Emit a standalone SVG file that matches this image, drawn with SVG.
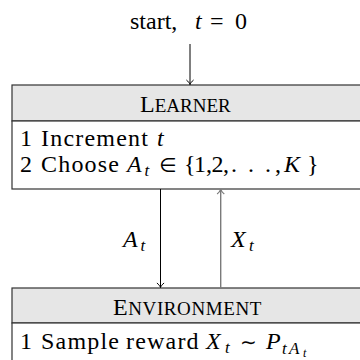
<svg xmlns="http://www.w3.org/2000/svg" width="360" height="360" viewBox="0 0 360 360">
<defs>
<marker id="ab" viewBox="-6 -5 7 10" refX="0" refY="0" markerWidth="7" markerHeight="10" markerUnits="userSpaceOnUse" orient="auto">
<path d="M-4.5,-3.6 C-3,-1.6 -1.2,-0.5 0,0 C-1.2,0.5 -3,1.6 -4.5,3.6" fill="none" stroke="#000" stroke-width="1"/>
</marker>
<marker id="ag" viewBox="-6 -5 7 10" refX="0" refY="0" markerWidth="7" markerHeight="10" markerUnits="userSpaceOnUse" orient="auto">
<path d="M-4.5,-3.6 C-3,-1.6 -1.2,-0.5 0,0 C-1.2,0.5 -3,1.6 -4.5,3.6" fill="none" stroke="#7a7a7a" stroke-width="1.2"/>
</marker>
</defs>
<rect width="360" height="360" fill="#fff"/>
<g id="start">
<text font-family="Liberation Serif" font-size="24" x="130" y="29">start,</text>
<text font-family="Liberation Serif" font-size="24" font-style="italic" x="195" y="29">t</text>
<text font-family="Liberation Serif" font-size="24" x="210" y="29">=</text>
<text font-family="Liberation Serif" font-size="24" x="235" y="29">0</text>
</g>
<g id="learner">
<rect x="12" y="85" width="360" height="36" fill="#e6e6e6" stroke="#333" stroke-width="1.2"/>
<rect x="12" y="121" width="360" height="68" fill="#fff" stroke="#333" stroke-width="1.2"/>
<text font-family="Liberation Serif" font-size="24" x="140" y="112">L<tspan font-size="19">EARNER</tspan></text>
<text font-family="Liberation Serif" font-size="24" x="20" y="146">1</text>
<text font-family="Liberation Serif" font-size="24" x="41" y="146" word-spacing="0" letter-spacing="1.2">Increment</text>
<text font-family="Liberation Serif" font-size="24" font-style="italic" x="157" y="146">t</text>
<text font-family="Liberation Serif" font-size="24" x="20" y="171.5">2</text>
<text font-family="Liberation Serif" font-size="24" x="41" y="171.5" letter-spacing="1.2">Choose</text>
<text font-family="Liberation Serif" font-size="24" font-style="italic" x="127" y="171.5">A</text>
<text font-family="Liberation Serif" font-size="17" font-style="italic" x="144.5" y="175.5">t</text>
<text font-family="DejaVu Sans" font-size="20" x="159" y="171.5">∈</text>
<text font-family="Liberation Serif" font-size="24" x="184" y="171.5">{</text>
<text font-family="Liberation Serif" font-size="24" x="194" y="171.5">1</text>
<text font-family="Liberation Serif" font-size="24" x="206" y="171.5">,</text>
<text font-family="Liberation Serif" font-size="24" x="211.5" y="171.5">2</text>
<text font-family="Liberation Serif" font-size="24" x="223" y="171.5">,</text>
<text font-family="Liberation Serif" font-size="24" x="231" y="171.5">.</text>
<text font-family="Liberation Serif" font-size="24" x="248" y="171.5">.</text>
<text font-family="Liberation Serif" font-size="24" x="265" y="171.5">.</text>
<text font-family="Liberation Serif" font-size="24" x="275" y="171.5">,</text>
<text font-family="Liberation Serif" font-size="24" font-style="italic" x="284" y="171.5">K</text>
<text font-family="Liberation Serif" font-size="24" x="307" y="171.5">}</text>
</g>
<g id="environment">
<rect x="12" y="288" width="360" height="35" fill="#e6e6e6" stroke="#333" stroke-width="1.2"/>
<rect x="12" y="323" width="360" height="50" fill="#fff" stroke="#333" stroke-width="1.2"/>
<text font-family="Liberation Serif" font-size="24" x="113" y="315" letter-spacing="0.6">E<tspan font-size="19">NVIRONMENT</tspan></text>
<text font-family="Liberation Serif" font-size="24" x="20" y="349">1</text>
<text font-family="Liberation Serif" font-size="24" x="41" y="349" letter-spacing="1.2">Sample</text>
<text font-family="Liberation Serif" font-size="24" x="126" y="349" letter-spacing="1.2">reward</text>
<text font-family="Liberation Serif" font-size="24" font-style="italic" x="206" y="349">X</text>
<text font-family="Liberation Serif" font-size="17" font-style="italic" x="225" y="353">t</text>
<text font-family="DejaVu Sans" font-size="20" x="240" y="349">∼</text>
<text font-family="Liberation Serif" font-size="24" font-style="italic" x="266" y="349">P</text>
<text font-family="Liberation Serif" font-size="17" font-style="italic" x="282" y="353.5">t</text>
<text font-family="Liberation Serif" font-size="17" font-style="italic" x="289" y="353.5">A</text>
<text font-family="Liberation Serif" font-size="12" font-style="italic" x="303" y="357">t</text>
</g>
<g id="connectors">
<line x1="190" y1="44" x2="190" y2="84.5" stroke="#000" stroke-width="1" marker-end="url(#ab)"/>
<line x1="160.5" y1="189" x2="160.5" y2="287.5" stroke="#000" stroke-width="1" marker-end="url(#ab)"/>
<line x1="220.7" y1="288" x2="220.7" y2="189.5" stroke="#7a7a7a" stroke-width="1.4" marker-end="url(#ag)"/>
<text font-family="Liberation Serif" font-size="24" font-style="italic" x="123" y="246.7">A</text>
<text font-family="Liberation Serif" font-size="17" font-style="italic" x="140.5" y="250.5">t</text>
<text font-family="Liberation Serif" font-size="24" font-style="italic" x="231" y="246.7">X</text>
<text font-family="Liberation Serif" font-size="17" font-style="italic" x="249" y="250.5">t</text>
</g>
</svg>
